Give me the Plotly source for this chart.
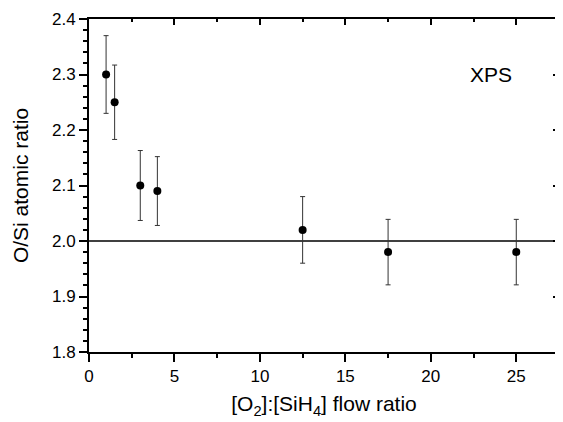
import plotly.graph_objects as go

# flow ratio [O2]:[SiH4] and measured O/Si atomic ratio (XPS)
flow_ratio = [1, 1.5, 3, 4, 12.5, 17.5, 25]
os_ratio = [2.30, 2.25, 2.10, 2.09, 2.02, 1.98, 1.98]
os_err = [0.07, 0.067, 0.063, 0.062, 0.06, 0.059, 0.059]
stoich = 2.0  # SiO2 reference line

x_range = [0, 27.5]
y_range = [1.8, 2.4]
x_ticks = [0, 5, 10, 15, 20, 25]
y_ticks = [1.8, 1.9, 2.0, 2.1, 2.2, 2.3, 2.4]

font = "Liberation Sans, Arial, sans-serif"

fig = go.Figure()

# reference line at O/Si = 2
fig.add_trace(go.Scatter(
    x=x_range, y=[stoich, stoich], mode="lines",
    line=dict(color="black", width=1.6), showlegend=False, hoverinfo="skip"
))

fig.add_trace(go.Scatter(
    x=flow_ratio, y=os_ratio, mode="markers",
    marker=dict(color="black", size=8),
    error_y=dict(type="data", array=os_err, visible=True,
                 color="#333333", thickness=1, width=2.5),
    showlegend=False
))

fig.add_annotation(x=23.5, y=2.3, text="XPS", showarrow=False,
                   font=dict(family=font, size=21, color="black"))

# page body has an 8px margin, so the figure is sized to fit the window
fig.update_layout(
    width=555, height=414,
    margin=dict(l=81, r=2, t=11, b=70),
    plot_bgcolor="white", paper_bgcolor="white",
    font=dict(family=font, color="black"),
    xaxis=dict(
        range=x_range, tickvals=x_ticks, showgrid=False, zeroline=False,
        showline=True, linecolor="black", linewidth=2, mirror=True,
        ticks="outside", ticklen=8, tickwidth=1.5, tickcolor="black",
        tickfont=dict(size=17),
        minor=dict(dtick=2.5, tick0=0, ticks="outside", ticklen=4, tickcolor="black"),
        title=dict(text="[O<sub>2</sub>]:[SiH<sub>4</sub>] flow ratio",
                   font=dict(size=21), standoff=11),
    ),
    yaxis=dict(
        range=y_range, tickvals=y_ticks, tickformat=".1f",
        showgrid=False, zeroline=False,
        showline=True, linecolor="black", linewidth=2, mirror=True,
        ticks="outside", ticklen=8, tickwidth=1.5, tickcolor="black",
        tickfont=dict(size=17),
        minor=dict(dtick=0.02, tick0=1.8, ticks="outside", ticklen=4, tickcolor="black"),
        title=dict(text="O/Si atomic ratio", font=dict(size=21), standoff=18),
    ),
    # top and right axes with inward ticks
    xaxis2=dict(
        overlaying="x", side="top", range=x_range, tickvals=x_ticks,
        showticklabels=False, showgrid=False, zeroline=False,
        ticks="inside", ticklen=6, tickwidth=1.5, tickcolor="black",
        minor=dict(dtick=2.5, tick0=0, ticks="inside", ticklen=3, tickcolor="black"),
    ),
    yaxis2=dict(
        overlaying="y", side="right", range=y_range, tickvals=y_ticks,
        showticklabels=False, showgrid=False, zeroline=False,
        ticks="inside", ticklen=6, tickwidth=1.5, tickcolor="black",
        minor=dict(dtick=0.02, tick0=1.8, ticks="inside", ticklen=3, tickcolor="black"),
    ),
)

# empty trace bound to the mirror axes so they get drawn
fig.add_trace(go.Scatter(x=[], y=[], xaxis="x2", yaxis="y2", showlegend=False))

fig.write_html("out.html")
